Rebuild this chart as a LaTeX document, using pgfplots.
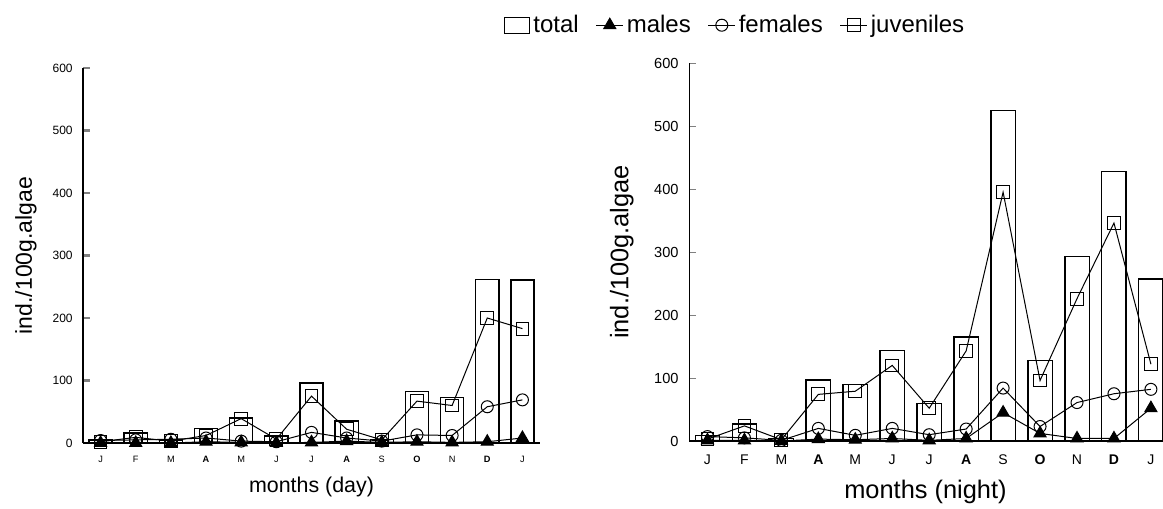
\documentclass[border=0pt]{standalone}
\usepackage{fontspec}
\setmainfont{Liberation Sans}
\usepackage{pgfplots}
\usepackage{pgfplotstable}
\pgfplotsset{compat=1.18}

% day samples
\pgfplotstableread{
x tot juv fem mal
0  5   2   4  0
1  16  9   5  0
2  5   3   6  0
3  23  12  8  2
4  40  39  3  1
5  11  6   2  0
6  96  75  17 1
7  35  22  8  3
8  6   5   3  1
9  82  67  13 2
10 73  60  12 1
11 262 200 58 2
12 261 183 69 8
}\daytab

% night samples
\pgfplotstableread{
x tot juv fem mal
0  9   3   7  1
1  27  24  5  1
2  4   2   1  0
3  97  74  20 3
4  90  79  9  2
5  144 120 20 4
6  60  52  10 1
7  165 143 19 4
8  525 395 84 45
9  128 96  23 12
10 293 226 61 4
11 428 346 75 4
12 257 122 82 52
}\nighttab

\newcommand{\fs}[1]{\fontsize{#1}{#1}\selectfont}

\pgfplotsset{
  monthaxis/.style={
    scale only axis,
    anchor=south west,
    ymin=0, ymax=600,
    ytick={0,100,...,600},
    xtick={0,...,12},
    xticklabels={J,F,M,\textbf{A},M,J,J,\textbf{A},S,\textbf{O},N,\textbf{D},J},
    axis x line*=bottom,
    axis y line*=left,
    axis line style={-},
    xtick style={draw=none},
    tick align=inside,
    clip=false,
    /pgf/number format/assume math mode=true,
    yticklabel style={anchor=east, inner sep=0pt, xshift=-5pt},
    xticklabel style={anchor=center, inner sep=0pt},
    xlabel style={anchor=center},
    ylabel style={anchor=center},
  },
  totbar/.style={ybar, bar width=0.66, draw=black, fill=white, line width=0.7pt,
    legend image code/.code={\draw[black, line width=0.5pt, fill=white] (0pt,-4pt) rectangle (12.5pt,4pt);}},
  ser/.style={black, line width=0.5pt, mark options={line width=0.5pt, solid},
    legend image code/.code={\draw[mark repeat=2, mark phase=2, ##1] plot coordinates {(0pt,0pt) (6.75pt,0pt) (13.5pt,0pt)};}},
}

\begin{document}
\begin{tikzpicture}
\path[use as bounding box] (0,0) rectangle (581.5pt,254.5pt);

\begin{axis}[monthaxis,
  at={(41.5pt,33pt)}, width=228.5pt, height=187.5pt,
  xmin=-0.5, xmax=12.5,
  axis line style={line width=1pt},
  ytick style={line width=1.3pt}, major tick length=3.5pt,
  yticklabel style={font=\fs{6}},
  xticklabel style={font=\fs{4.6}, yshift=-8pt},
  xlabel={months (day)},
  xlabel style={at={(axis description cs:0.5,-0.117)}, font=\fs{10.7}},
  ylabel={ind./100g.algae},
  ylabel style={at={(axis description cs:-0.125,0.5)}, font=\fs{11.5}},
]
\addplot[totbar] table[x=x, y=tot] {\daytab};
\addplot[ser, mark=square, mark size=3.2pt] table[x=x, y=juv] {\daytab};
\addplot[ser, mark=o, mark size=3pt] table[x=x, y=fem] {\daytab};
\addplot[ser, mark=triangle*, mark size=3.5pt] table[x=x, y=mal] {\daytab};
\end{axis}

\begin{axis}[monthaxis,
  at={(344.5pt,34pt)}, width=236.5pt, height=189pt,
  xmin=-0.5, xmax=12.3,
  x axis line style={line width=1pt},
  y axis line style={line width=0.5pt},
  ytick style={line width=0.5pt}, major tick length=3.5pt,
  yticklabel style={font=\fs{7.3}},
  xticklabel style={font=\fs{7}, yshift=-9.5pt},
  xlabel={months (night)},
  xlabel style={at={(axis description cs:0.5,-0.135)}, font=\fs{12.7}},
  ylabel={ind./100g.algae},
  ylabel style={at={(axis description cs:-0.142,0.5)}, font=\fs{12.7}},
  legend columns=4,
  legend cell align=left,
  legend style={at={(axis description cs:0.099,1.10)}, anchor=center,
    draw=none, fill=none, font=\fs{12},
    nodes={inner xsep=1.5pt, inner ysep=1pt},
    /tikz/every even column/.append style={column sep=7pt}},
]
\addplot[totbar] table[x=x, y=tot] {\nighttab};
\addlegendentry{total}
\addplot[ser, mark=triangle*, mark size=3.5pt] table[x=x, y=mal] {\nighttab};
\addlegendentry{males}
\addplot[ser, mark=o, mark size=3pt] table[x=x, y=fem] {\nighttab};
\addlegendentry{females}
\addplot[ser, mark=square, mark size=3.2pt] table[x=x, y=juv] {\nighttab};
\addlegendentry{juveniles}
\end{axis}
\end{tikzpicture}
\end{document}
